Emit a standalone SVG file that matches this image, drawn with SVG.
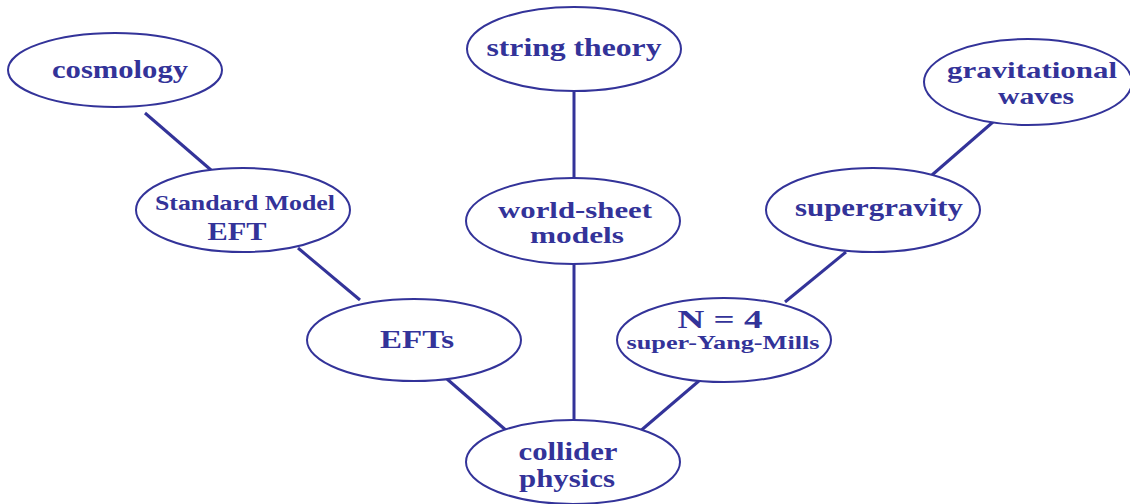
<svg xmlns="http://www.w3.org/2000/svg" width="1130" height="504" viewBox="0 0 1130 504">
<style>
.n{fill:#fff;stroke:#333399;stroke-width:2}
.t{font-family:"Liberation Serif","Times New Roman",serif;font-weight:bold;fill:#333399;text-anchor:middle}
.c line{stroke:#333399;stroke-width:3}
</style>
<rect width="1130" height="504" fill="#fff"/>
<g class="c" id="connectors">
<line x1="145" y1="113" x2="211" y2="170"/>
<line x1="298" y1="248" x2="360" y2="300"/>
<line x1="447" y1="379" x2="508" y2="432"/>
<line x1="574" y1="92" x2="574" y2="178"/>
<line x1="574" y1="264" x2="574" y2="424"/>
<line x1="700" y1="380" x2="638" y2="433"/>
<line x1="846" y1="252" x2="785" y2="302"/>
<line x1="993" y1="122" x2="932" y2="175"/>
</g>
<g id="cosmology"><ellipse class="n" cx="115" cy="70" rx="107" ry="37"/><text class="t" x="120" y="78" font-size="26" textLength="136" lengthAdjust="spacingAndGlyphs">cosmology</text></g>
<g id="string-theory"><ellipse class="n" cx="574" cy="49" rx="107" ry="42"/><text class="t" x="574" y="56" font-size="26" textLength="175" lengthAdjust="spacingAndGlyphs">string theory</text></g>
<g id="gravitational-waves"><ellipse class="n" cx="1028" cy="82" rx="104" ry="43"/><text class="t" x="1032" y="78" font-size="24" textLength="170" lengthAdjust="spacingAndGlyphs">gravitational</text><text class="t" x="1036" y="104" font-size="24" textLength="76" lengthAdjust="spacingAndGlyphs">waves</text></g>
<g id="sm-eft"><ellipse class="n" cx="243" cy="210" rx="107" ry="42"/><text class="t" x="245" y="210" font-size="21" textLength="180" lengthAdjust="spacingAndGlyphs">Standard Model</text><text class="t" x="237" y="240" font-size="26" textLength="59" lengthAdjust="spacingAndGlyphs">EFT</text></g>
<g id="world-sheet"><ellipse class="n" cx="573" cy="221" rx="107" ry="43"/><text class="t" x="575" y="218" font-size="24" textLength="154" lengthAdjust="spacingAndGlyphs">world-sheet</text><text class="t" x="577" y="243" font-size="24" textLength="94" lengthAdjust="spacingAndGlyphs">models</text></g>
<g id="supergravity"><ellipse class="n" cx="873" cy="210" rx="107" ry="42"/><text class="t" x="879" y="216" font-size="26" textLength="168" lengthAdjust="spacingAndGlyphs">supergravity</text></g>
<g id="efts"><ellipse class="n" cx="414" cy="340" rx="107" ry="41"/><text class="t" x="417" y="348" font-size="26" textLength="74" lengthAdjust="spacingAndGlyphs">EFTs</text></g>
<g id="n4-sym"><ellipse class="n" cx="724" cy="340" rx="107" ry="42"/><text class="t" x="720" y="328" font-size="26" textLength="85" lengthAdjust="spacingAndGlyphs">N = 4</text><text class="t" x="723" y="349" font-size="19" textLength="193" lengthAdjust="spacingAndGlyphs">super-Yang-Mills</text></g>
<g id="collider-physics"><ellipse class="n" cx="573" cy="462" rx="107" ry="42"/><text class="t" x="568" y="460" font-size="25" textLength="99" lengthAdjust="spacingAndGlyphs">collider</text><text class="t" x="567" y="487" font-size="25" textLength="96" lengthAdjust="spacingAndGlyphs">physics</text></g>
</svg>
